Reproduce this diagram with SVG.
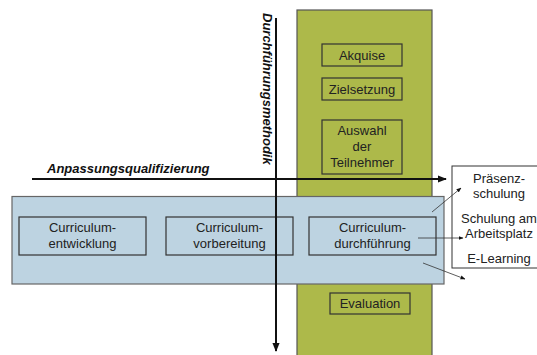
<svg xmlns="http://www.w3.org/2000/svg" width="537" height="355" viewBox="0 0 537 355">
<defs>
<style>
.box{fill:none;stroke:#333;stroke-width:1.2}
.t{font-family:"Liberation Sans",Arial,sans-serif;font-size:13px;fill:#222;text-anchor:middle}
.ax{font-family:"Liberation Sans",Arial,sans-serif;font-size:13px;font-weight:bold;font-style:italic;fill:#111}
.axis{stroke:#111;stroke-width:2;fill:none}
.thin{stroke:#333;stroke-width:0.8;fill:none}
</style>
<marker id="ah" viewBox="0 0 10 10" refX="9" refY="5" markerWidth="5" markerHeight="5" orient="auto" markerUnits="userSpaceOnUse"><path d="M0,1 L10,5 L0,9 z" fill="#111"/></marker>
<marker id="big" viewBox="0 0 10 10" refX="9" refY="5" markerWidth="9" markerHeight="9" orient="auto" markerUnits="userSpaceOnUse"><path d="M0,1 L10,5 L0,9 z" fill="#111"/></marker>
</defs>
<g id="phase-column">
<rect x="297" y="10" width="135" height="350" fill="#adb94a" stroke="#555" stroke-width="1.2"/>
</g>
<g id="akquise"><rect class="box" x="322" y="44" width="80" height="22"/><text class="t" x="362" y="60">Akquise</text></g>
<g id="zielsetzung"><rect class="box" x="322" y="78" width="80" height="22"/><text class="t" x="362" y="94">Zielsetzung</text></g>
<g id="auswahl"><rect class="box" x="322" y="120" width="80" height="54"/><text class="t" x="362" y="135">Auswahl</text><text class="t" x="362" y="151">der</text><text class="t" x="362" y="167">Teilnehmer</text></g>
<g id="evaluation"><rect class="box" x="330" y="293" width="80" height="21"/><text class="t" x="370" y="308">Evaluation</text></g>
<g id="curriculum-band">
<rect x="12" y="196.5" width="432" height="87.5" fill="#bdd3e1" stroke="#666" stroke-width="1.2"/>
</g>
<g id="entwicklung"><rect class="box" x="19" y="217" width="127" height="38"/><text class="t" x="82.5" y="232">Curriculum-</text><text class="t" x="82.5" y="248">entwicklung</text></g>
<g id="vorbereitung"><rect class="box" x="166" y="217" width="127" height="38"/><text class="t" x="229.5" y="232">Curriculum-</text><text class="t" x="229.5" y="248">vorbereitung</text></g>
<g id="durchfuehrung"><rect class="box" x="309" y="217" width="127" height="38"/><text class="t" x="372.5" y="232">Curriculum-</text><text class="t" x="372.5" y="248">durchführung</text></g>
<g id="methoden"><rect x="452" y="166" width="100" height="102" fill="#fff" stroke="#333" stroke-width="1"/>
<text class="t" x="499" y="183">Präsenz-</text><text class="t" x="499" y="198">schulung</text>
<text class="t" x="499" y="223">Schulung am</text><text class="t" x="499" y="238">Arbeitsplatz</text>
<text class="t" x="499" y="263">E-Learning</text></g>
<g id="connectors">
<line class="axis" x1="32" y1="179" x2="446" y2="179" marker-end="url(#big)"/>
<line class="axis" x1="276" y1="18" x2="276" y2="351" marker-end="url(#big)"/>
<line class="thin" x1="432" y1="212" x2="461" y2="188" marker-end="url(#ah)"/>
<line class="thin" x1="418" y1="238" x2="463" y2="238" marker-end="url(#ah)"/>
<line class="thin" x1="423" y1="263" x2="465" y2="279" marker-end="url(#ah)"/>
</g>
<g id="axis-labels">
<text class="ax" x="47" y="173">Anpassungsqualifizierung</text>
<text class="ax" transform="translate(263,13) rotate(90)">Durchführungsmethodik</text>
</g>
</svg>
